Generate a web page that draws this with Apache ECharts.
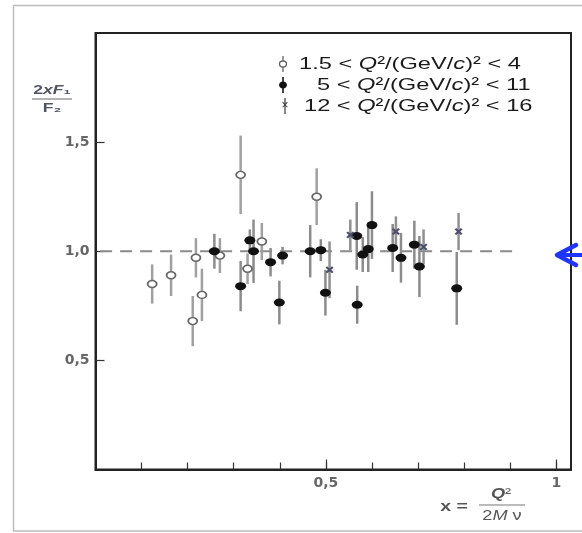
<!DOCTYPE html>
<html>
<head>
<meta charset="utf-8">
<script src="https://cdn.jsdelivr.net/npm/echarts@6/dist/echarts.min.js"></script>
<style>
html,body{margin:0;padding:0;background:#fff;}
#chart{width:582px;height:533px;}
</style>
</head>
<body>
<div id="chart"></div>
<script>
// ---- data ----
// 1.5 < Q^2 < 4 (open circles)
const openX   = [0.123, 0.164, 0.211, 0.218, 0.231, 0.270, 0.315, 0.330, 0.361, 0.480];
const openY   = [0.85,  0.89,  0.68,  0.97,  0.80,  0.98,  1.35,  0.92,  1.045, 1.25];
const openErr = [0.09,  0.095, 0.115, 0.09,  0.12,  0.08,  0.18,  0.07,  0.085, 0.13];
// 5 < Q^2 < 11 (filled circles)
const fillX   = [0.258, 0.315, 0.335, 0.343, 0.380, 0.399, 0.406, 0.466, 0.489, 0.499,
                 0.567, 0.568, 0.580, 0.592, 0.600, 0.645, 0.663, 0.692, 0.703, 0.784];
const fillY   = [1.00,  0.84,  1.05,  1.00,  0.95,  0.765, 0.98,  1.00,  1.005, 0.81,
                 1.07,  0.755, 0.985, 1.01,  1.12,  1.015, 0.97,  1.03,  0.93,  0.83];
const fillErr = [0.08,  0.115, 0.05,  0.145, 0.065, 0.10,  0.04,  0.12,  0.05,  0.105,
                 0.155, 0.087, 0.08,  0.105, 0.155, 0.11,  0.114, 0.11,  0.14,  0.167];
// 12 < Q^2 < 16 (crosses)
const crossX   = [0.508, 0.553, 0.652, 0.712, 0.788];
const crossY   = [0.915, 1.075, 1.09,  1.02,  1.09];
const crossErr = [0.13,  0.07,  0.07,  0.08,  0.085];
// reference line 2xF1/F2 = 1
const refY = 1.0;
const refX = [0.01, 0.92];
// ticks / labels
const xMinorTicks = [0.1, 0.2, 0.3, 0.4, 0.5, 0.6, 0.7, 0.8, 0.9, 1.0];
const xMajorTicks = [0.5, 1.0];
const xLabels = [0.5, 1.0];
const yTicks = [0.5, 1.0, 1.5];
const legendTexts = [
  ['1.5 < ', '5 < ', '12 < '],
  [' < 4', ' < 11', ' < 16']
];

const openData  = openX.map((x, i) => [x, openY[i], openErr[i]]);
const fillData  = fillX.map((x, i) => [x, fillY[i], fillErr[i]]);
const crossData = crossX.map((x, i) => [x, crossY[i], crossErr[i]]);

function errBar(color, width) {
  return function (params, api) {
    const x = api.value(0), y = api.value(1), e = api.value(2);
    const p1 = api.coord([x, y - e]);
    const p2 = api.coord([x, y + e]);
    return {
      type: 'line',
      shape: {x1: p1[0], y1: p1[1], x2: p2[0], y2: p2[1]},
      style: {stroke: color, lineWidth: width}
    };
  };
}

const crossPath = 'path://M0,2 L2,0 L5,3 L8,0 L10,2 L7,5 L10,8 L8,10 L5,7 L2,10 L0,8 L3,5 Z';
const FONT = '"Liberation Sans", Arial, sans-serif';
const SX = 1.39;
const L_Y = [64, 85, 106];
const TITLE_C = '#4f5566';

function legendRich(color) {
  return {
    n: {fontSize: 17, fontFamily: FONT, fill: color},
    i: {fontSize: 17, fontFamily: FONT, fill: color, fontStyle: 'italic'}
  };
}
function legendRow(y, textX, pre, post) {
  return {
    type: 'text', x: textX, y: y, scaleX: SX, scaleY: 1,
    style: {
      text: '{n|' + pre + '}{i|Q}{n|²/(GeV/}{i|c}{n|)² ' + post.trim() + '}',
      rich: legendRich('#1a1a1a'),
      fill: '#1a1a1a', textVerticalAlign: 'middle', textAlign: 'left'
    },
    z: 20
  };
}

const chart = echarts.init(document.getElementById('chart'), null, {renderer: 'canvas'});
const option = {
  animation: false,
  backgroundColor: '#fff',
  grid: {left: 95.5, right: 11, top: 33, bottom: 63.5, show: true, borderColor: '#222', borderWidth: 2, backgroundColor: 'transparent'},
  xAxis: [{
    type: 'value', min: 0, max: 1.032,
    axisLine: {show: true, onZero: false, lineStyle: {color: '#222', width: 2}},
    axisTick: {show: true, inside: true, length: 7, customValues: xMinorTicks, lineStyle: {color: '#333', width: 1.2}},
    axisLabel: {show: true, customValues: xLabels, margin: 7,
      formatter: v => (Math.abs(v - 1) < 1e-9 ? '1' : String(v).replace('.', ',')),
      color: '#666', fontFamily: '"DejaVu Sans", sans-serif', fontWeight: 'bold', fontSize: 14},
    splitLine: {show: false}
  }, {
    type: 'value', min: 0, max: 1.032, position: 'bottom',
    axisLine: {show: false},
    axisTick: {show: true, inside: true, length: 10, customValues: xMajorTicks, lineStyle: {color: '#333', width: 1.2}},
    axisLabel: {show: false},
    splitLine: {show: false}
  }],
  yAxis: {
    type: 'value', min: 0, max: 2,
    axisLine: {show: true, onZero: false, lineStyle: {color: '#222', width: 2}},
    axisTick: {show: true, inside: true, length: 9, customValues: yTicks, lineStyle: {color: '#333', width: 1.2}},
    axisLabel: {show: true, customValues: yTicks, margin: 6,
      formatter: v => v.toFixed(1).replace('.', ','),
      color: '#666', fontFamily: '"DejaVu Sans", sans-serif', fontWeight: 'bold', fontSize: 14},
    splitLine: {show: false}
  },
  series: [
    {type: 'line', data: refX.map(x => [x, refY]), symbol: 'none', silent: true, z: 1,
     lineStyle: {type: [12, 8], color: '#8a8a8a', width: 2}},
    {type: 'custom', renderItem: errBar('#a0a0a0', 2.5), data: openData, encode: {x: 0, y: 1}, z: 2, silent: true},
    {type: 'custom', renderItem: errBar('#8c8c8c', 2.5), data: fillData, encode: {x: 0, y: 1}, z: 2, silent: true},
    {type: 'custom', renderItem: errBar('#909090', 2.5), data: crossData, encode: {x: 0, y: 1}, z: 2, silent: true},
    {type: 'scatter', data: openData, symbol: 'circle', symbolSize: [9, 7], z: 5,
     itemStyle: {color: '#fff', borderColor: '#666', borderWidth: 1.6, opacity: 1}},
    {type: 'scatter', data: fillData, symbol: 'circle', symbolSize: [11, 8], z: 5,
     itemStyle: {color: '#111', opacity: 1}},
    {type: 'scatter', data: crossData, symbol: crossPath, symbolSize: [8, 7], z: 5,
     itemStyle: {color: '#4a4f6e', opacity: 1}}
  ],
  graphic: [
    // outer frame of the figure
    {type: 'rect', shape: {x: 13.5, y: 5.5, width: 620, height: 525.5}, style: {fill: 'none', stroke: '#bdbdbd', lineWidth: 1.5}, z: 0, silent: true},
    // legend symbols
    {type: 'line', shape: {x1: 283, y1: L_Y[0] - 8, x2: 283, y2: L_Y[0] + 8}, style: {stroke: '#999', lineWidth: 2}, z: 19},
    {type: 'ellipse', shape: {cx: 283, cy: L_Y[0], rx: 3.5, ry: 3}, style: {fill: '#fff', stroke: '#666', lineWidth: 1.4}, z: 20},
    {type: 'line', shape: {x1: 283, y1: L_Y[1] - 8, x2: 283, y2: L_Y[1] + 8}, style: {stroke: '#444', lineWidth: 2}, z: 19},
    {type: 'ellipse', shape: {cx: 283, cy: L_Y[1], rx: 4, ry: 3.5}, style: {fill: '#111'}, z: 20},
    {type: 'line', shape: {x1: 285, y1: L_Y[2] - 8, x2: 285, y2: L_Y[2] + 8}, style: {stroke: '#888', lineWidth: 2}, z: 19},
    {type: 'text', x: 285, y: L_Y[2], style: {text: '×', fontSize: 12, fontFamily: FONT, fill: '#333', textAlign: 'center', textVerticalAlign: 'middle'}, z: 20},
    legendRow(L_Y[0], 299, legendTexts[0][0], legendTexts[1][0]),
    legendRow(L_Y[1], 317, legendTexts[0][1], legendTexts[1][1]),
    legendRow(L_Y[2], 304, legendTexts[0][2], legendTexts[1][2]),
    // y-axis title 2xF1/F2
    {type: 'text', x: 52, y: 90, scaleX: 1.35,
     style: {text: '{n|2}{i|xF}{n|₁}', rich: {n: {fontSize: 13, fontWeight: 'bold', fontFamily: FONT, fill: TITLE_C}, i: {fontSize: 13, fontWeight: 'bold', fontFamily: FONT, fill: TITLE_C, fontStyle: 'italic'}},
             textAlign: 'center', textVerticalAlign: 'middle'}},
    {type: 'line', shape: {x1: 32, y1: 99, x2: 72, y2: 99}, style: {stroke: '#666', lineWidth: 1.2}},
    {type: 'text', x: 52, y: 108, scaleX: 1.35,
     style: {text: 'F₂', fontSize: 13, fontWeight: 'bold', fontFamily: FONT, fill: TITLE_C, textAlign: 'center', textVerticalAlign: 'middle'}},
    // x-axis title x = Q^2 / 2M nu
    {type: 'text', x: 454, y: 507, scaleX: 1.3,
     style: {text: 'x =', fontSize: 15, fontWeight: 'bold', fontFamily: FONT, fill: '#555', textAlign: 'center', textVerticalAlign: 'middle'}},
    {type: 'text', x: 501, y: 494, scaleX: 1.3,
     style: {text: '{i|Q}{n|²}', rich: {n: {fontSize: 14, fontFamily: FONT, fill: '#555'}, i: {fontSize: 14, fontFamily: FONT, fill: '#555', fontStyle: 'italic', fontWeight: 'bold'}},
             textAlign: 'center', textVerticalAlign: 'middle'}},
    {type: 'line', shape: {x1: 479, y1: 505, x2: 525, y2: 505}, style: {stroke: '#777', lineWidth: 1.2}},
    {type: 'text', x: 502, y: 516, scaleX: 1.3,
     style: {text: '{n|2}{i|M}{n| ν}', rich: {n: {fontSize: 14, fontFamily: FONT, fill: '#555'}, i: {fontSize: 14, fontFamily: FONT, fill: '#555', fontStyle: 'italic'}},
             textAlign: 'center', textVerticalAlign: 'middle'}},
    // blue arrow on the right
    {type: 'polyline', shape: {points: [[576, 245], [557, 255], [576, 265]]}, style: {stroke: '#1f35ff', lineWidth: 4.5, fill: 'none', lineJoin: 'round', lineCap: 'round'}, z: 30},
    {type: 'line', shape: {x1: 558, y1: 255, x2: 582, y2: 255}, style: {stroke: '#1f35ff', lineWidth: 4}, z: 30}
  ]
};
chart.setOption(option);
</script>
</body>
</html>
